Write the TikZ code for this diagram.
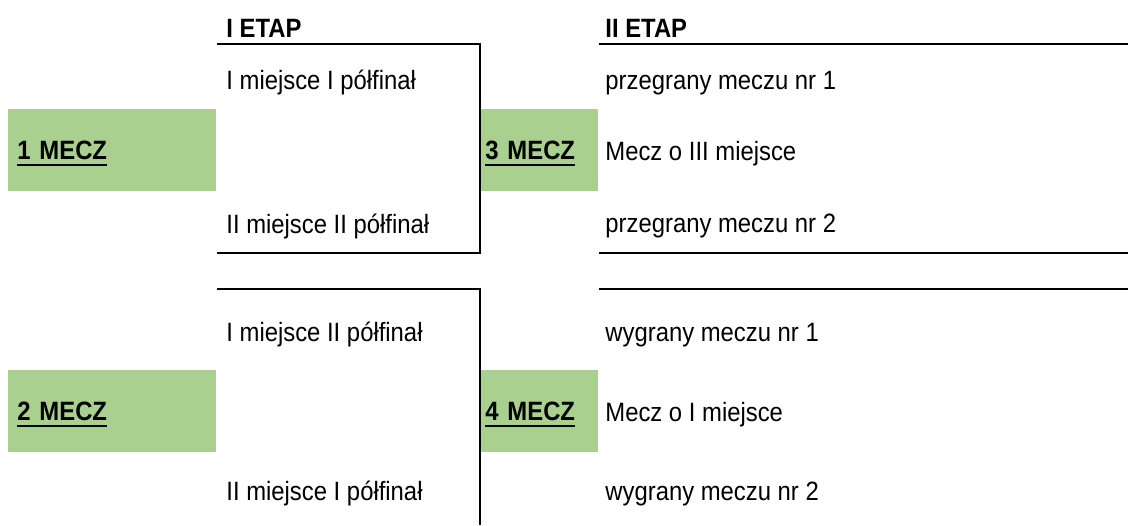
\documentclass[tikz,border=0pt]{standalone}
\usepackage{fontspec}
\setmainfont{Liberation Sans}[FakeStretch=0.9]
\definecolor{meczgreen}{HTML}{A9D08E}
\newcommand{\ulmecz}[1]{\setbox0\hbox{#1}\rlap{\rule[-3.4pt]{\wd0}{1.1pt}}\box0}
\newcommand{\schfont}{\fontsize{13.25}{16}\selectfont}
\tikzset{
  meczbox/.style={fill=meczgreen, anchor=north west, align=left, inner ysep=0pt,
    minimum height=41pt, text height=9pt, text depth=0pt, font=\schfont\bfseries},
  etap/.style={anchor=base west, inner sep=0pt, font=\schfont\bfseries},
  opis/.style={anchor=base west, inner sep=0pt, font=\schfont},
  bracket/.style={line width=1.3pt}
}
\begin{document}
\begin{tikzpicture}[x=0.5pt,y=-0.5pt]
    \useasboundingbox (0,0) rectangle (1128,525);

    \node[etap] (etap1) at (226,37) {I ETAP};
    \node[etap] (etap2) at (605,37) {II ETAP};

    \node[meczbox, text width=95pt, inner xsep=4.5pt] (m1) at (8,109) {\ulmecz{1 MECZ}};
    \node[meczbox, text width=95pt, inner xsep=4.5pt] (m2) at (8,370) {\ulmecz{2 MECZ}};
    \node[meczbox, text width=54pt, inner xsep=2.5pt] (m3) at (480,109) {\ulmecz{3 MECZ}};
    \node[meczbox, text width=54pt, inner xsep=2.5pt] (m4) at (480,370) {\ulmecz{4 MECZ}};

    \node[opis] (a1) at (226,89) {I miejsce I półfinał};
    \node[opis] (a2) at (226,233) {II miejsce II półfinał};
    \node[opis] (b1) at (226,341) {I miejsce II półfinał};
    \node[opis] (b2) at (226,500) {II miejsce I półfinał};

    \node[opis] (c1) at (605,89) {przegrany meczu nr 1};
    \node[opis] (c2) at (605,160) {Mecz o III miejsce};
    \node[opis] (c3) at (605,232) {przegrany meczu nr 2};
    \node[opis] (d1) at (605,341) {wygrany meczu nr 1};
    \node[opis] (d2) at (605,421) {Mecz o I miejsce};
    \node[opis] (d3) at (605,500) {wygrany meczu nr 2};

    \coordinate (g1) at (m1.north east |- 0,44);
    \coordinate (g2) at (m1.north east |- 0,253);
    \coordinate (g3) at (m2.north east |- 0,289);
    \coordinate (g4) at (m2.north east |- 0,525);

    \draw[bracket] (g1) -| (m3.north west |- g2) -- (g2);
    \draw[bracket] (g3) -| (m4.north west |- g4);
    \draw[bracket] (m3.north east |- g1) -- (1128,44);
    \draw[bracket] (m3.north east |- g2) -- (1128,253);
    \draw[bracket] (m4.north east |- g3) -- (1128,289);
\end{tikzpicture}
\end{document}
